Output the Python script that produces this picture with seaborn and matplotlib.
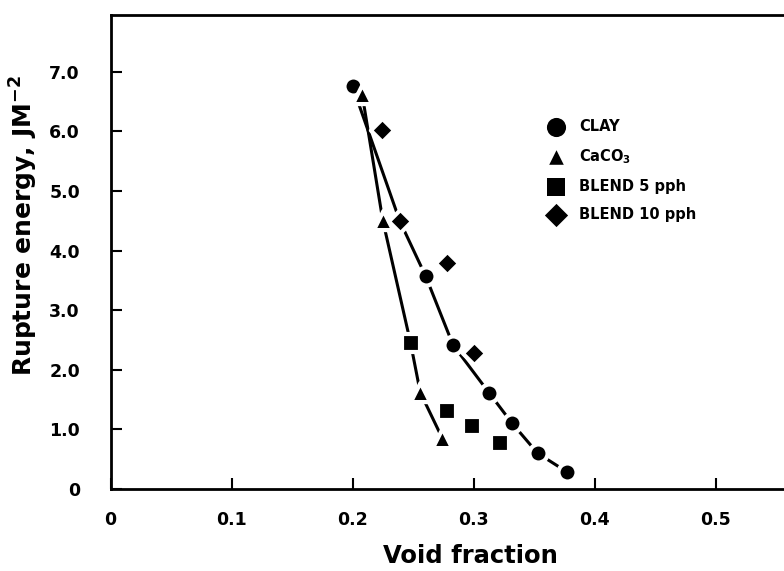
import seaborn as sns
import matplotlib.pyplot as plt
import pandas as pd

# Values
clay_x = [0.200, 0.2605, 0.283, 0.313, 0.332, 0.353, 0.377]
clay_y = [6.76, 3.57, 2.42, 1.61, 1.10, 0.60, 0.29]

caco3_x = [0.208, 0.225, 0.256, 0.274]
caco3_y = [6.62, 4.51, 1.62, 0.86]

blend5_x = [0.248, 0.278, 0.299, 0.322]
blend5_y = [2.45, 1.31, 1.06, 0.77]

blend10_x = [0.224, 0.239, 0.278, 0.300]
blend10_y = [6.02, 4.50, 3.79, 2.28]

# hand-drawn fit curves
curve_upper_x = [0.200, 0.239, 0.2605, 0.283, 0.313, 0.332, 0.353, 0.377]
curve_upper_y = [6.76, 4.50, 3.57, 2.42, 1.61, 1.10, 0.60, 0.29]
curve_lower_x = [0.208, 0.225, 0.248, 0.256, 0.274]
curve_lower_y = [6.62, 4.51, 2.45, 1.62, 0.86]

xticks = [0, 0.1, 0.2, 0.3, 0.4, 0.5]
xtick_labels = ["0", "0.1", "0.2", "0.3", "0.4", "0.5"]
yticks = [0, 1, 2, 3, 4, 5, 6, 7]
ytick_labels = ["0", "1.0", "2.0", "3.0", "4.0", "5.0", "6.0", "7.0"]

sns.set_style("ticks")
plt.rcParams["font.family"] = ["DejaVu Sans"]
plt.rcParams["font.weight"] = "bold"
plt.rcParams["mathtext.default"] = "bf"
for key in ["text.color", "axes.labelcolor", "xtick.color", "ytick.color", "axes.edgecolor"]:
    plt.rcParams[key] = "black"

fig = plt.figure(figsize=(7.84, 5.71), dpi=100)
ax = fig.add_axes([110.5 / 784, 1 - 489 / 571, 1 - 110.5 / 784, (489 - 15) / 571])

# curves first, markers on top with white edges to give the small gaps
ax.plot(curve_upper_x, curve_upper_y, color="black", lw=2.2, solid_capstyle="butt", zorder=1)
ax.plot(curve_lower_x, curve_lower_y, color="black", lw=2.2, solid_capstyle="butt", zorder=1)

series = [
    ("CLAY", clay_x, clay_y, "o", 170),
    ("CaCO$_3$", caco3_x, caco3_y, "^", 190),
    ("BLEND 5 pph", blend5_x, blend5_y, "s", 170),
    ("BLEND 10 pph", blend10_x, blend10_y, "D", 140),
]
for name, xs, ys, mk, size in series:
    df = pd.DataFrame({"x": xs, "y": ys})
    sns.scatterplot(data=df, x="x", y="y", marker=mk, s=size, color="black",
                    edgecolor="white", linewidth=3, ax=ax, zorder=3, label=name)

ax.set_xlim(0, (784 - 110.5) / 1210)
ax.set_ylim(0, (489 - 15) / 59.6)
ax.set_xticks(xticks, xtick_labels)
ax.set_yticks(yticks, ytick_labels)
ax.tick_params(direction="in", length=8, width=1.5, labelsize=12.5)
ax.tick_params(axis="y", pad=22)
ax.tick_params(axis="x", pad=16)
for s in ["left", "bottom", "top"]:
    ax.spines[s].set_linewidth(2)
ax.spines["right"].set_visible(False)

ax.set_xlabel("Void fraction", fontsize=17.5, fontweight="bold")
ax.set_ylabel("Rupture energy, JM$^{-2}$", fontsize=18, fontweight="bold")
ax.xaxis.set_label_coords(0.534, -0.115)
ax.yaxis.set_label_coords(-0.104, 0.555)

leg = ax.legend(loc="upper left", bbox_to_anchor=(534 / 784, 1 - 106 / 571),
                bbox_transform=fig.transFigure, frameon=False, fontsize=10.5,
                handletextpad=1.0, labelspacing=0.9, handlelength=1.2)
leg_sizes = [190, 110, 160, 140]
for h, sz in zip(leg.legend_handles, leg_sizes):
    h.set_edgecolor("black")
    h.set_linewidth(0)
    h.set_sizes([sz])

fig.savefig("out.png", dpi=100)
